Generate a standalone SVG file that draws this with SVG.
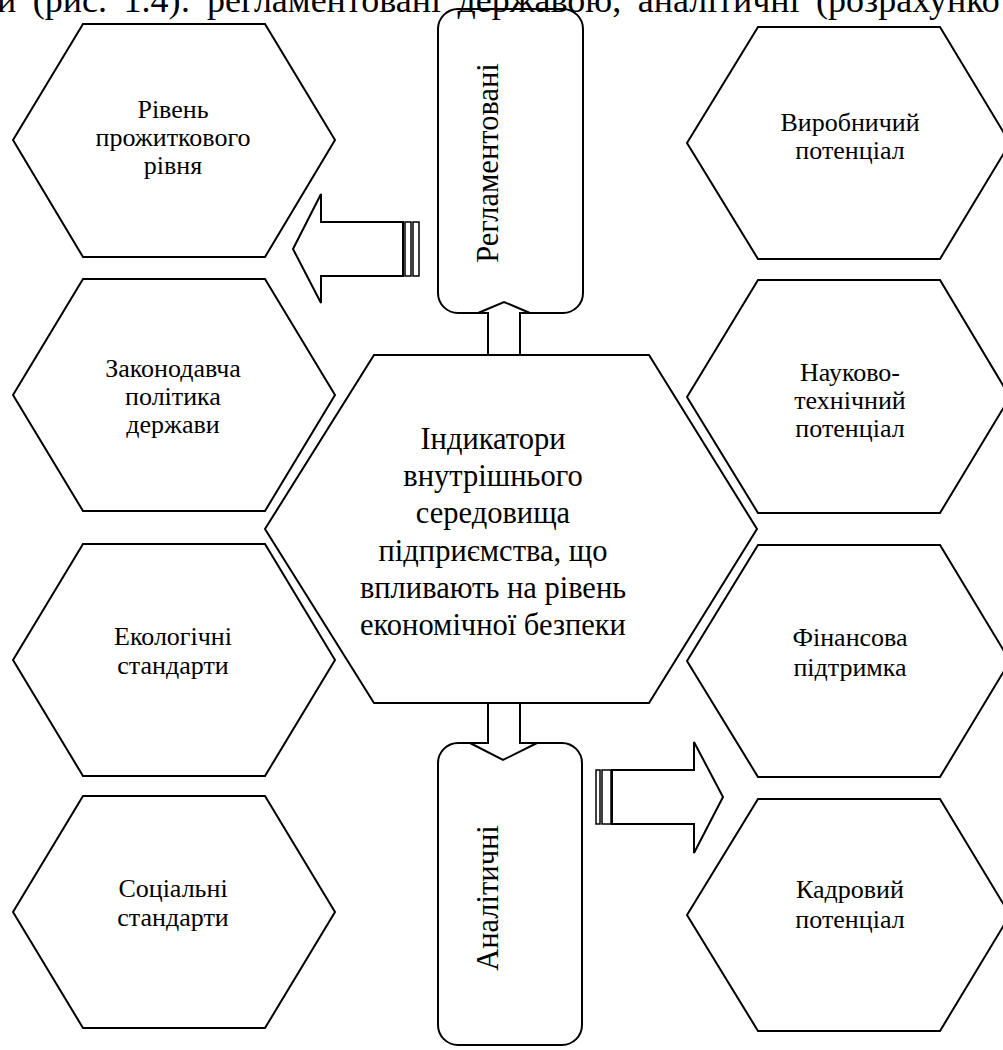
<svg xmlns="http://www.w3.org/2000/svg" width="1003" height="1050" viewBox="0 0 1003 1050">
<style>
.shape{fill:#fff;stroke:#000;stroke-width:2;stroke-linejoin:miter}
.bar{fill:#fff;stroke:#000;stroke-width:1.5}
text{font-family:'Liberation Serif','Times New Roman',serif;fill:#000}
.lbl{font-size:26px;text-anchor:middle}
.big{font-size:30.5px;text-anchor:middle}
.head{font-size:36px}
</style>
<rect width="1003" height="1050" fill="#fff"/>

<g id="hex-l1" font-family="Liberation Serif, serif"><path class="shape" d="M13,140 L83,24 L265,24 L335,140 L265,257 L83,257 Z"/>
<text class="lbl" x="173" y="118">Рівень</text><text class="lbl" x="173" y="146">прожиткового</text><text class="lbl" x="173" y="174">рівня</text></g>
<g id="hex-l2" font-family="Liberation Serif, serif"><path class="shape" d="M13,395 L83,279 L265,279 L335,395 L265,511 L83,511 Z"/>
<text class="lbl" x="173" y="377">Законодавча</text><text class="lbl" x="173" y="405">політика</text><text class="lbl" x="173" y="433">держави</text></g>
<g id="hex-l3" font-family="Liberation Serif, serif"><path class="shape" d="M13,660 L83,544 L265,544 L335,660 L265,776 L83,776 Z"/>
<text class="lbl" x="173" y="645">Екологічні</text><text class="lbl" x="173" y="674">стандарти</text></g>
<g id="hex-l4" font-family="Liberation Serif, serif"><path class="shape" d="M13,912 L83,796 L265,796 L335,912 L265,1028 L83,1028 Z"/>
<text class="lbl" x="173" y="897">Соціальні</text><text class="lbl" x="173" y="926">стандарти</text></g>

<g id="hex-r1" font-family="Liberation Serif, serif"><path class="shape" d="M687,143 L758,27 L940,27 L1010,143 L940,259 L758,259 Z"/>
<text class="lbl" x="850" y="131">Виробничий</text><text class="lbl" x="850" y="159">потенціал</text></g>
<g id="hex-r2" font-family="Liberation Serif, serif"><path class="shape" d="M687,397 L758,280 L940,280 L1010,397 L940,513 L758,513 Z"/>
<text class="lbl" x="850" y="381">Науково-</text><text class="lbl" x="850" y="409">технічний</text><text class="lbl" x="850" y="437">потенціал</text></g>
<g id="hex-r3" font-family="Liberation Serif, serif"><path class="shape" d="M687,661 L758,545 L940,545 L1010,661 L940,777 L758,777 Z"/>
<text class="lbl" x="850" y="646">Фінансова</text><text class="lbl" x="850" y="676">підтримка</text></g>
<g id="hex-r4" font-family="Liberation Serif, serif"><path class="shape" d="M687,915 L758,799 L940,799 L1010,915 L940,1031 L758,1031 Z"/>
<text class="lbl" x="850" y="898">Кадровий</text><text class="lbl" x="850" y="928">потенціал</text></g>

<g id="hex-center" font-family="Liberation Serif, serif"><path class="shape" d="M265,529 L374,355 L649,355 L757,529 L649,703 L374,703 Z"/>
<text class="big" x="493" y="449">Індикатори</text>
<text class="big" x="493" y="486">внутрішнього</text>
<text class="big" x="493" y="523">середовища</text>
<text class="big" x="493" y="561">підприємства, що</text>
<text class="big" x="493" y="598">впливають на рівень</text>
<text class="big" x="493" y="635">економічної безпеки</text></g>

<g id="box-reg" font-family="Liberation Serif, serif"><rect class="shape" x="438" y="9" width="145" height="304" rx="20" ry="20"/>
<text class="big" transform="translate(498,163) rotate(-90)" x="0" y="0">Регламентовані</text></g>
<g id="box-anal" font-family="Liberation Serif, serif"><rect class="shape" x="438" y="743" width="144" height="302" rx="20" ry="20"/>
<text class="big" transform="translate(498,898) rotate(-90)" x="0" y="0">Аналітичні</text></g>

<g id="connectors">
<polygon class="shape" points="488,355 488,313 478,313 504,302 530,313 520,313 520,355"/>
<polygon class="shape" points="488,703 488,743 470,743 503,760 537,743 520,743 520,703"/>
<polygon class="shape" points="293,249 321,194 321,222 403,222 403,276 321,276 321,303"/>
<rect class="bar" x="405" y="222" width="6" height="54"/>
<rect class="bar" x="413" y="222" width="6" height="54"/>
<polygon class="shape" points="723,797 694,853 694,824 612,824 612,770 694,770 694,742"/>
<rect class="bar" x="602" y="770" width="9" height="54"/>
<rect class="bar" x="596" y="770" width="4" height="54"/>
</g>

<text class="head" x="-3" y="12" word-spacing="7.5">и (рис. 1.4): регламентовані державою, аналітичні (розрахунко</text>
</svg>
